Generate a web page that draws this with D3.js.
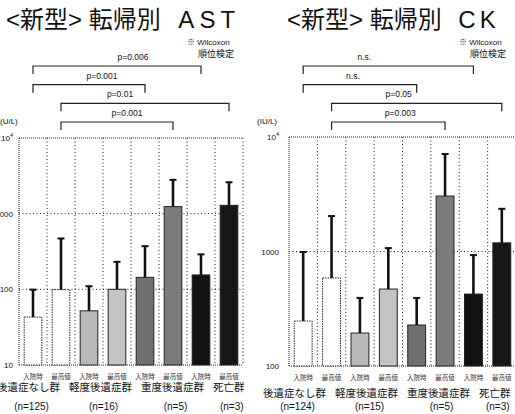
<!DOCTYPE html>
<html>
<head>
<meta charset="utf-8">
<script src="https://cdn.jsdelivr.net/npm/d3@7"></script>
<style>
  body { margin: 0; background: #fff; }
  svg { display: block; }
  text { font-family: 'Liberation Sans', 'Noto Sans CJK JP', sans-serif; fill: #111; }
</style>
</head>
<body>
<svg id="chart" width="515" height="414"></svg>
<script>
// --- data ---
const timepoints = ['入院時', '最高値'];
const outcomeGroups = ['後遺症なし群', '軽度後遺症群', '重度後遺症群', '死亡群'];
const astGroupN = ['(n=125)', '(n=16)', '(n=5)', '(n=3)'];
const ckGroupN = ['(n=124)', '(n=15)', '(n=5)', '(n=3)'];

// bar = median, whisker top = upper value (IU/L); order: group x timepoint
const astValues = [43, 99, 52, 100, 144, 1240, 155, 1290];
const astUpper = [99, 470, 110, 231, 372, 2800, 290, 2600];
const ckValues = [247, 587, 194, 470, 228, 3050, 425, 1190];
const ckUpper = [990, 2040, 393, 1070, 393, 7100, 930, 2360];

const astTicks = [10, 100, 1000, 10000];
const ckTicks = [100, 1000, 10000];

// significance brackets: [from bar, to bar, label]
const astTests = [[0, 6, 'p=0.006'], [0, 4, 'p=0.001'], [1, 7, 'p=0.01'], [1, 5, 'p=0.001']];
const ckTests = [[0, 6, 'n.s.'], [0, 4, 'n.s.'], [1, 7, 'p=0.05'], [1, 5, 'p=0.003']];

const barFills = ['#fff', '#fff', '#b9b9b9', '#c4c4c4', '#6f6f6f', '#7b7b7b', '#111', '#161616'];

const svg = d3.select('#chart');

function drawPanel(opt) {
  const g = svg.append('g');
  const bars = opt.values.map((v, i) => ({
    i, value: v, upper: opt.upper[i],
    sub: timepoints[i % 2], fill: barFills[i]
  }));

  // one cell per bar, no padding; bar sits in the middle of the cell
  const x = d3.scaleBand()
    .domain(d3.range(bars.length))
    .range([opt.left, opt.right]);
  const barW = x.bandwidth() * 0.63;
  const y = d3.scaleLog()
    .domain([opt.ticks[0], opt.ticks[opt.ticks.length - 1]])
    .range([opt.bottom, opt.top]);
  const cx = i => x(i) + x.bandwidth() / 2;

  // title
  const title = g.append('text')
    .attr('x', opt.titleX).attr('y', 28)
    .style('font-size', '24px');
  title.append('tspan').text('<新型> 転帰別');
  title.append('tspan').attr('dx', 6)
    .style('letter-spacing', opt.titleSpacing + 'px')
    .text(' ' + opt.title);

  // Wilcoxon note
  g.append('text').attr('x', opt.noteX).attr('y', 45)
    .style('font-size', '8px').text('※ Wilcoxon');
  g.append('text').attr('x', opt.noteX + 11).attr('y', 57)
    .style('font-size', '9px').text('順位検定');

  // unit
  g.append('text').attr('x', opt.unitX).attr('y', 124)
    .style('font-size', '8px').text(opt.unit);

  // grid and frame (dotted)
  g.selectAll('.vgrid')
    .data(d3.range(bars.length + 1))
    .join('line')
    .attr('x1', i => opt.left + i * x.step())
    .attr('x2', i => opt.left + i * x.step())
    .attr('y1', opt.top).attr('y2', opt.bottom)
    .attr('stroke', '#222')
    .attr('stroke-width', 1)
    .attr('stroke-dasharray', (d, i) => (i === 0 ? '1,1' : '1,2.5'));

  g.selectAll('.hgrid')
    .data(opt.ticks)
    .join('line')
    .attr('x1', opt.left).attr('x2', opt.right)
    .attr('y1', d => y(d)).attr('y2', d => y(d))
    .attr('stroke', '#222')
    .attr('stroke-width', 1)
    .attr('stroke-dasharray', (d, i) => (i === 0 || i === opt.ticks.length - 1 ? '1,1' : '1,2.5'));

  // y tick labels
  const tl = g.selectAll('.ytick')
    .data(opt.ticks)
    .join('text')
    .attr('x', opt.left - opt.tickGap)
    .attr('y', d => y(d) + 3)
    .attr('text-anchor', 'end')
    .style('font-size', '8px');
  tl.each(function (d) {
    const t = d3.select(this);
    if (d >= 10000) {
      t.append('tspan').text('10');
      t.append('tspan').attr('dy', -4).style('font-size', '5.5px').text(Math.log10(d));
    } else {
      t.text(d);
    }
  });

  // bars
  g.selectAll('.bar')
    .data(bars)
    .join('rect')
    .attr('x', d => cx(d.i) - barW / 2)
    .attr('y', d => y(d.value))
    .attr('width', barW)
    .attr('height', d => y(opt.ticks[0]) - y(d.value))
    .attr('fill', d => d.fill)
    .attr('stroke', '#222')
    .attr('stroke-width', 1)
    .attr('stroke-dasharray', d => (d.fill === '#fff' ? '1.5,1' : null));

  // whiskers
  g.selectAll('.whisker')
    .data(bars)
    .join('line')
    .attr('x1', d => cx(d.i)).attr('x2', d => cx(d.i))
    .attr('y1', d => y(d.value)).attr('y2', d => y(d.upper))
    .attr('stroke', '#111')
    .attr('stroke-width', 2.6);
  g.selectAll('.cap')
    .data(bars)
    .join('line')
    .attr('x1', d => cx(d.i) - 3.5).attr('x2', d => cx(d.i) + 3.5)
    .attr('y1', d => y(d.upper)).attr('y2', d => y(d.upper))
    .attr('stroke', '#111')
    .attr('stroke-width', 2);

  // timepoint labels under bars
  g.selectAll('.sub')
    .data(bars)
    .join('text')
    .attr('x', d => cx(d.i))
    .attr('y', opt.bottom + 14)
    .attr('text-anchor', 'middle')
    .style('font-size', '6.5px')
    .style('fill', '#333')
    .text(d => d.sub);

  // group names laid out as one line of text, n below each
  let cursor = opt.groupX;
  outcomeGroups.forEach((name, k) => {
    const t = g.append('text')
      .attr('x', cursor).attr('y', opt.groupY)
      .style('font-size', '10.5px')
      .text(name);
    const w = t.node().getComputedTextLength();
    g.append('text')
      .attr('x', cursor + w / 2 + 3).attr('y', 410)
      .attr('text-anchor', 'middle')
      .style('font-size', '10px')
      .text(opt.groupN[k]);
    cursor += w + 9;
  });

  // significance brackets
  const row = d3.scalePoint()
    .domain(d3.range(opt.tests.length))
    .range([66, 122]);
  opt.tests.forEach(([a, b, label], k) => {
    const yy = row(k);
    g.append('path')
      .attr('d', `M${cx(a)},${yy + 8}V${yy}H${cx(b)}V${yy + 8}`)
      .attr('fill', 'none')
      .attr('stroke', '#222')
      .attr('stroke-width', 1.2);
    g.append('text')
      .attr('x', (cx(a) + cx(b)) / 2 + opt.labelShift[k])
      .attr('y', yy - 6)
      .attr('text-anchor', 'middle')
      .style('font-size', '8.5px')
      .text(label);
  });
}

drawPanel({
  title: 'AST', titleX: 6, titleSpacing: 5,
  values: astValues, upper: astUpper, ticks: astTicks, tests: astTests,
  groupN: astGroupN, unit: '(U/L)', unitX: 0,
  left: 19, right: 243, top: 138, bottom: 365, tickGap: 6,
  noteX: 187, groupX: -3, groupY: 391,
  labelShift: [16, 13, -25, 10]
});

drawPanel({
  title: 'CK', titleX: 287, titleSpacing: 4,
  values: ckValues, upper: ckUpper, ticks: ckTicks, tests: ckTests,
  groupN: ckGroupN, unit: '(IU/L)', unitX: 257,
  left: 289, right: 516, top: 137, bottom: 366, tickGap: 10,
  noteX: 459, groupX: 263, groupY: 397,
  labelShift: [-24, -7, -18, 12]
});
</script>
</body>
</html>
